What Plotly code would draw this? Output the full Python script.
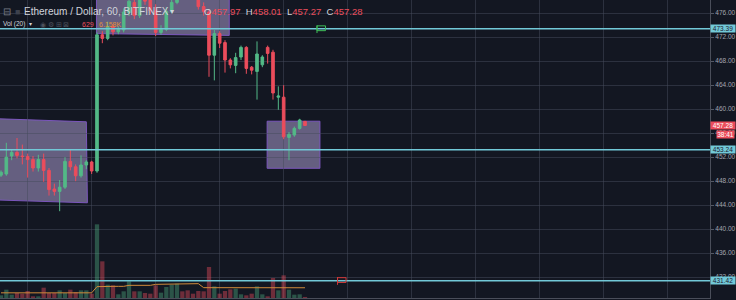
import plotly.graph_objects as go

# ---------------- data ----------------
OPEN = [449.0, 449.2, 452.2, 452.8, 452.2, 452.1, 451.6, 450.2, 451.6, 449.8,
        446.7, 446.3, 447.0, 451.3, 450.4, 448.9, 450.7, 451.2, 449.7, 472.4,
        471.8, 473.8, 472.9, 473.2, 476.1, 477.8, 475.6, 478.8, 478.3, 476.4,
        472.8, 473.3, 476.3, 477.8, 480.2, 479.8, 479.2, 478.2, 477.1, 476.2,
        469.0, 472.6, 471.1, 468.2, 467.3, 468.7, 470.3, 467.0, 466.3, 467.4,
        470.3, 469.5, 462.0, 462.0, 455.3, 455.7, 456.8, 457.97]
HIGH = [449.8, 454.4, 453.2, 455.2, 454.1, 452.6, 452.2, 452.4, 452.6, 450.2,
        447.6, 448.2, 452.0, 453.3, 450.8, 452.3, 451.5, 451.4, 472.8, 473.0,
        474.6, 474.2, 473.8, 476.8, 478.5, 478.4, 479.2, 479.6, 479.0, 477.5,
        474.0, 477.0, 478.6, 480.8, 480.9, 480.4, 479.6, 479.0, 477.8, 476.6,
        473.2, 473.0, 471.5, 468.5, 469.4, 470.6, 470.5, 467.2, 471.3, 469.0,
        470.6, 469.9, 463.8, 464.0, 456.2, 457.1, 458.4, 458.01]
LOW = [448.7, 448.9, 451.5, 451.8, 450.8, 448.6, 449.6, 449.6, 447.9, 445.6,
       445.6, 443.0, 446.7, 449.8, 448.0, 448.6, 450.0, 449.2, 449.4, 471.0,
       471.5, 472.3, 472.5, 472.8, 475.5, 475.0, 475.2, 477.4, 475.8, 472.2,
       472.4, 473.0, 476.0, 477.5, 479.0, 478.5, 478.3, 476.6, 475.6, 465.4,
       464.8, 470.2, 466.1, 466.8, 466.0, 468.2, 465.9, 465.8, 461.6, 467.0,
       467.6, 461.6, 459.9, 455.0, 451.5, 455.4, 456.6, 457.27]
CLOSE = [449.5, 452.0, 452.8, 452.3, 452.1, 451.6, 450.2, 451.6, 449.8, 446.6,
         446.3, 447.0, 451.3, 450.4, 448.9, 450.7, 451.2, 449.7, 472.4, 471.8,
         473.8, 472.9, 473.3, 476.2, 478.0, 475.6, 478.6, 478.0, 476.4, 472.8,
         473.3, 476.3, 477.8, 480.0, 479.6, 479.0, 478.6, 477.1, 476.3, 469.0,
         472.6, 471.0, 468.2, 467.4, 468.6, 470.3, 466.8, 466.5, 469.2, 468.7,
         469.3, 462.7, 462.2, 455.4, 455.8, 456.8, 458.2, 457.28]
VOLUME = [1600, 5000, 2000, 3000, 2600, 4200, 1000, 1000, 6200, 3000,
          3000, 4600, 3000, 5000, 3600, 4600, 4600, 2600, 44200, 22000,
          8000, 7600, 2200, 4000, 10000, 4000, 4000, 3000, 2600, 7600,
          3200, 6600, 8000, 8600, 4000, 4600, 2600, 4200, 4000, 18600,
          7000, 2600, 4200, 5200, 5600, 2200, 1600, 2600, 7000, 2200,
          1000, 12000, 4600, 13600, 5000, 2000, 2200, 629]
VOL_MA = [3100] * 18 + [6800] + [7000] * 5 + [7600] * 5 + [8200] * 4 + \
         [8600] * 5 + [6200] * 6 + [6150] * 14

PRICE_TICKS = [432, 436, 440, 444, 448, 452, 456, 460, 464, 468, 472, 476]
LEVELS = [473.39, 453.24, 431.42]
LAST_PRICE = 457.28
COUNTDOWN = "38:41"
LEGEND_OHLC = [("O", "457.97"), ("H", "458.01"), ("L", "457.27"), ("C", "457.28")]
LEGEND_VOL = ("629", "6.158K")

# ---------------- styling / layout constants ----------------
BG = "#131722"
GRID = "rgba(70,75,92,0.5)"
UP, DN = "#53b987", "#eb4d5c"
UP_VOL, DN_VOL = "rgba(83,185,135,0.38)", "rgba(235,77,92,0.42)"
CYAN = "#72c9d8"
TXT = "#d1d4dc"
AX_TXT = "#a3a6af"
FONT = "Liberation Sans"
PLOT_W, PLOT_H = 710, 298

idx = list(range(len(OPEN)))

fig = go.Figure()
fig.add_trace(go.Candlestick(
    x=idx, open=OPEN, high=HIGH, low=LOW, close=CLOSE,
    increasing=dict(line=dict(color=UP, width=1), fillcolor=UP),
    decreasing=dict(line=dict(color=DN, width=1), fillcolor=DN),
    whiskerwidth=0, showlegend=False, hoverinfo="skip"))
vol_colors = [UP_VOL if c >= o else DN_VOL for o, c in zip(OPEN, CLOSE)]
fig.add_trace(go.Bar(x=idx, y=VOLUME, marker_color=vol_colors, marker_line_width=0,
                     width=0.8, yaxis="y2", showlegend=False, hoverinfo="skip"))
fig.add_trace(go.Scatter(x=idx, y=VOL_MA, mode="lines", line=dict(color="#d08a3a", width=1),
                         yaxis="y2", showlegend=False, hoverinfo="skip"))

shapes = []
RECT_FILL = "rgba(170,155,205,0.55)"
RECT_LINE = "rgba(126,87,194,0.95)"
# drawn rectangles (slightly rotated), in (candle index, price) coords
RECTS = [
    [(-2.0, 458.45), (16.0, 457.9), (16.2, 444.4), (-2.0, 444.9)],
    [(17.9, 482.0), (42.8, 482.0), (42.8, 472.3), (17.9, 472.6)],
    [(49.9, 458.0), (59.8, 458.0), (59.8, 450.15), (49.9, 450.15)],
]
for pts in RECTS:
    path = "M " + " L ".join(f"{x},{y}" for x, y in pts) + " Z"
    shapes.append(dict(type="path", path=path, xref="x", yref="y", fillcolor=RECT_FILL,
                       line=dict(color=RECT_LINE, width=1), layer="below"))
for lv in LEVELS:
    shapes.append(dict(type="line", xref="paper", x0=0, x1=1, yref="y", y0=lv, y1=lv,
                       line=dict(color=CYAN, width=1.5), layer="above"))
# flags on the level lines
FLAGS = [(59.25, 473.39, "#3fbf5a"), (63.1, 431.42, "#d23a3a")]
for fx, fy, col in FLAGS:
    shapes.append(dict(type="line", xref="x", yref="y", x0=fx, x1=fx, y0=fy - 0.7, y1=fy + 0.6,
                       line=dict(color=col, width=1), layer="above"))
    shapes.append(dict(type="rect", xref="x", yref="y", x0=fx, x1=fx + 1.6, y0=fy - 0.3,
                       y1=fy + 0.5, line=dict(color=col, width=1), fillcolor="rgba(0,0,0,0)",
                       layer="above"))

ann = []


def px_ann(text, px, py, size, color, anchor="left"):
    ann.append(dict(text=text, x=px / PLOT_W, y=1 - py / PLOT_H, xref="paper", yref="paper",
                    xanchor=anchor, yanchor="middle", showarrow=False,
                    font=dict(family=FONT, size=size, color=color)))


px_ann("⊟", 1, 12, 10, "#787b86")
px_ann("■", 13, 12, 9, "#3d414d")
px_ann("Ethereum / Dollar, 60, BITFINEX", 22, 12, 10, TXT)
px_ann("▾", 168, 12, 8, TXT)
ohlc_text = "\u00a0\u00a0".join(f"{lab}<span style='color:{DN}'>{val}</span>"
                                for lab, val in LEGEND_OHLC)
px_ann(ohlc_text, 202, 12, 9.5, TXT)
px_ann("Vol (20)", 1, 24, 6.5, TXT)
px_ann("▾", 27, 24, 6, TXT)
px_ann("◉ ⚙ ⊞ ⊠", 38, 24, 6.5, "#4c505b")
px_ann(LEGEND_VOL[0], 80, 24, 7, DN)
px_ann(LEGEND_VOL[1], 97, 24, 7, "#e0913a")

# price-scale labels
for lv in LEVELS:
    ann.append(dict(text=f"{lv:.2f}", x=1, xref="paper", y=lv, yref="y", xanchor="left",
                    yanchor="middle", showarrow=False, bgcolor=CYAN, width=24, height=7,
                    borderpad=0, font=dict(family=FONT, size=6.5, color="#1c2030")))
ann.append(dict(text=f"{LAST_PRICE:.2f}", x=1, xref="paper", y=LAST_PRICE, yref="y",
                xanchor="left", yanchor="middle", showarrow=False, bgcolor=DN, width=24,
                height=7, borderpad=0, font=dict(family=FONT, size=6.5, color="#ffffff")))
ann.append(dict(text=COUNTDOWN, x=1, xref="paper", y=455.7, yref="y", xanchor="left", xshift=6,
                yanchor="middle", showarrow=False, bgcolor=DN, width=17, height=7,
                borderpad=0, font=dict(family=FONT, size=6.5, color="#ffffff")))

fig.update_layout(
    width=736, height=300, margin=dict(l=0, r=26, t=0, b=2),
    paper_bgcolor=BG, plot_bgcolor=BG, boxgap=0.3,
    shapes=shapes, annotations=ann, showlegend=False,
    xaxis=dict(range=[-0.1875, 132.94], tickvals=list(range(5, 133, 12)), showticklabels=False,
               ticks="", showgrid=True, gridcolor=GRID, gridwidth=1, zeroline=False,
               showline=True, linecolor="#4a4e5a", linewidth=1, mirror=False,
               rangeslider=dict(visible=False), fixedrange=True),
    yaxis=dict(side="right", range=[428.53, 478.2], tickvals=PRICE_TICKS,
               ticktext=[f"{t:.2f}" for t in PRICE_TICKS], ticks="outside", ticklen=3,
               tickcolor="#555a66", tickfont=dict(family=FONT, size=6.5, color=AX_TXT),
               showgrid=True, gridcolor=GRID, gridwidth=1, zeroline=False, showline=True,
               linecolor="#4a4e5a", linewidth=1, fixedrange=True),
    yaxis2=dict(overlaying="y", range=[0, 178800], visible=False, fixedrange=True),
)

fig.write_html("out.html")
